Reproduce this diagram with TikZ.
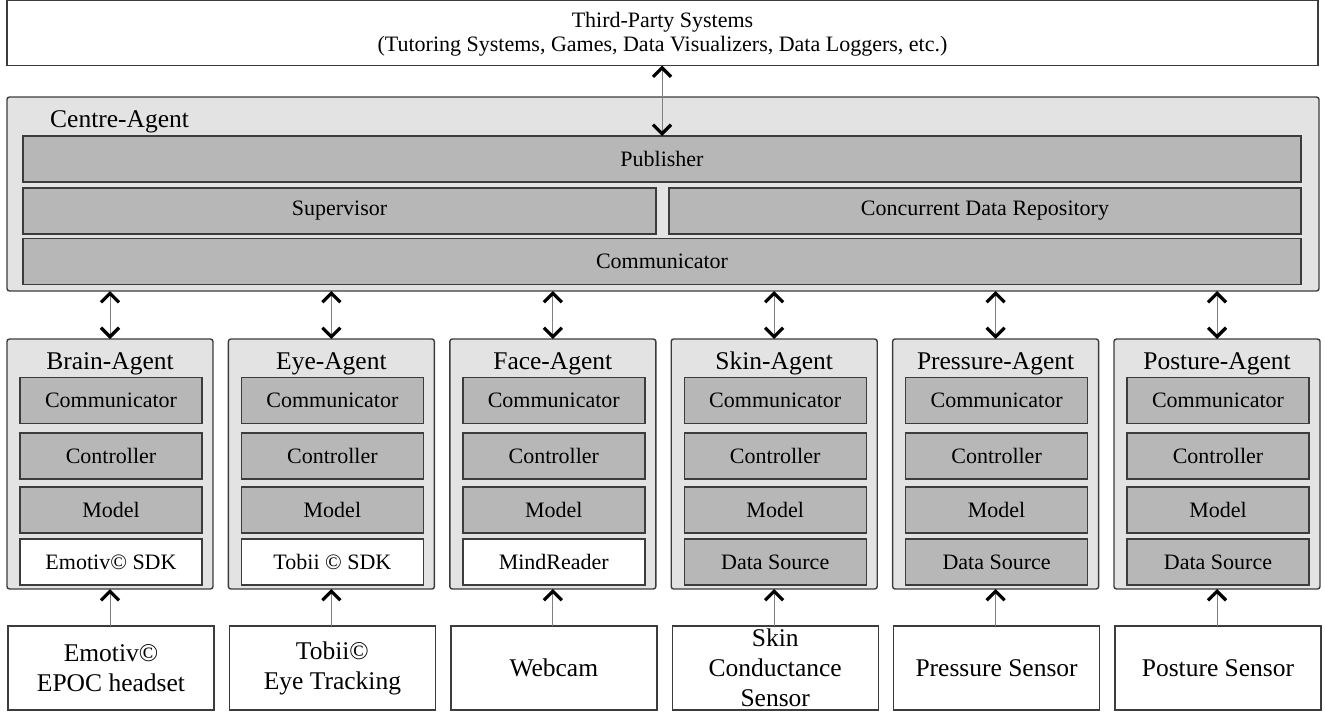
\documentclass[tikz,border=0pt]{standalone}
\usepackage{fontspec}
\setmainfont{Liberation Serif}
\newfontfamily\tnr{Liberation Serif}
\usetikzlibrary{arrows.meta}
\definecolor{lightbg}{HTML}{E3E3E3}
\definecolor{darkbox}{HTML}{B7B7B7}
\definecolor{edgec}{HTML}{3C3C3C}
\definecolor{shaft}{HTML}{808080}
\begin{document}
\begin{tikzpicture}[x=1pt,y=-1pt,
  box/.style={draw=edgec, line width=1.4pt, inner sep=0pt, outer sep=0pt},
  panel/.style={box, fill=lightbg, rounded corners=2.5pt},
  part/.style={box, fill=darkbox, font=\tnr\fontsize{22}{26}\selectfont},
  sensorbox/.style={box, fill=white, align=center, font=\tnr\fontsize{25.5}{30}\selectfont, minimum width=206pt, minimum height=84pt},
  titletext/.style={inner sep=0pt, font=\tnr\fontsize{25.5}{30}\selectfont},
  link/.style={draw=shaft, line width=0.9pt},
  >={Straight Barb[length=9pt,width=18pt,line width=3.2pt,color=black]}
]
\useasboundingbox (0,0) rectangle (1325,712);

% Third-party systems
\node[box, fill=white, minimum width=1311pt, minimum height=65pt] (third) at (662.5,33) {};
\node[inner sep=0pt, align=center, font=\tnr\fontsize{22}{23.5}\selectfont] (thirdtxt) at (662.5,34)
  {Third-Party Systems\\(Tutoring Systems, Games, Data Visualizers, Data Loggers, etc.)};

% Centre agent
\node[panel, minimum width=1312pt, minimum height=194pt] (centre) at (663,194) {};
\node[titletext, anchor=base west] (centretitle) at (50,127) {Centre-Agent};
\node[part, minimum width=1278pt, minimum height=46pt] (pub) at (662,159) {Publisher};
\node[part, minimum width=633pt, minimum height=46pt] (sup) at (339.5,211) {Supervisor};
\node[part, minimum width=632pt, minimum height=46pt] (cdr) at (985,211) {Concurrent Data Repository};
\node[part, minimum width=1278pt, minimum height=46pt] (ccom) at (662,261.5) {Communicator};

\draw[link, <->] (third.south -| pub.north) -- (pub.north);

% Agents and sensors
\foreach \i/\nm/\ttl/\src/\srcfill/\sen in {
  0/brain/Brain-Agent/Emotiv© SDK/white/{Emotiv©\\EPOC headset},
  1/eye/Eye-Agent/Tobii © SDK/white/{Tobii©\\Eye Tracking},
  2/face/Face-Agent/MindReader/white/Webcam,
  3/skin/Skin-Agent/Data Source/darkbox/{Skin\\Conductance\\Sensor},
  4/pressure/Pressure-Agent/Data Source/darkbox/Pressure Sensor,
  5/posture/Posture-Agent/Data Source/darkbox/Posture Sensor}{
  \pgfmathsetmacro\L{7+221.4*\i}
  \node[panel, minimum width=206pt, minimum height=250pt] (\nm) at (\L+103,464) {};
  \node[titletext, anchor=base] (\nm-title) at (\L+103,369) {\ttl};
  \node[part, minimum width=182pt, minimum height=46pt] (\nm-com) at (\L+104,400.5) {Communicator};
  \node[part, minimum width=182pt, minimum height=46pt] (\nm-ctl) at (\L+104,456) {Controller};
  \node[part, minimum width=182pt, minimum height=46pt] (\nm-mod) at (\L+104,510) {Model};
  \node[part, fill=\srcfill, minimum width=182pt, minimum height=46pt] (\nm-src) at (\L+104,562) {\src};
  \node[sensorbox] (\nm-sen) at (\L+104,668) {\sen};
  \draw[link, <->] (centre.south -| \nm.north) -- (\nm.north);
  \draw[link, ->] (\nm-sen.north -| \nm.south) -- (\nm.south);
}
\end{tikzpicture}
\end{document}
